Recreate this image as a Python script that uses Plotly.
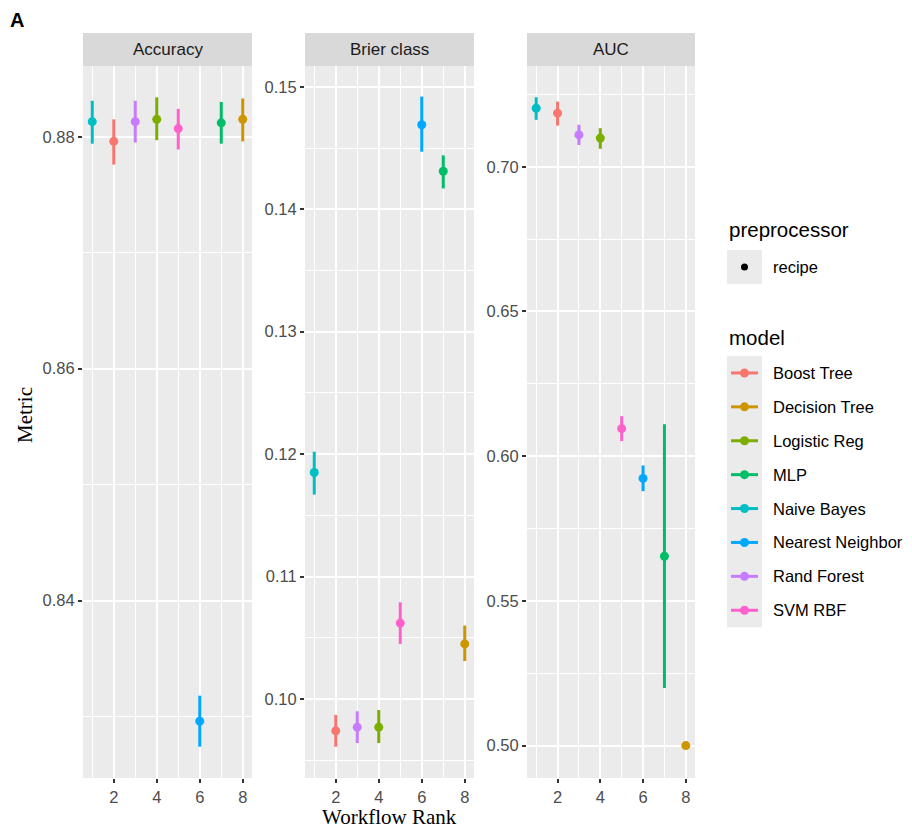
import plotly.graph_objects as go

# ---------------- data ----------------
models = ["Boost Tree", "Decision Tree", "Logistic Reg", "MLP",
          "Naive Bayes", "Nearest Neighbor", "Rand Forest", "SVM RBF"]
colors = ["#F8766D", "#CD9600", "#7CAE00", "#00BE67",
          "#00BFC4", "#00A9FF", "#C77CFF", "#FF61CC"]
rank = [2, 8, 4, 7, 1, 6, 3, 5]

acc_mean = [0.8796, 0.8815, 0.8815, 0.8812, 0.8813, 0.8296, 0.8813, 0.8807]
acc_lo   = [0.8776, 0.8796, 0.8797, 0.8794, 0.8794, 0.8274, 0.8795, 0.8789]
acc_hi   = [0.8815, 0.8833, 0.8834, 0.8830, 0.8831, 0.8318, 0.8831, 0.8824]

brier_mean = [0.0974, 0.1045, 0.0977, 0.1431, 0.1185, 0.1469, 0.0977, 0.1062]
brier_lo   = [0.0961, 0.1031, 0.0964, 0.1417, 0.1167, 0.1447, 0.0964, 0.1045]
brier_hi   = [0.0987, 0.1060, 0.0991, 0.1444, 0.1202, 0.1492, 0.0990, 0.1079]

auc_mean = [0.7185, 0.5000, 0.7099, 0.5654, 0.7202, 0.5923, 0.7110, 0.6095]
auc_lo   = [0.7142, 0.5000, 0.7062, 0.5199, 0.7162, 0.5879, 0.7075, 0.6052]
auc_hi   = [0.7225, 0.5000, 0.7133, 0.6110, 0.7240, 0.5968, 0.7145, 0.6138]

panel_titles = ["Accuracy", "Brier class", "AUC"]
x_ticks = [2, 4, 6, 8]
y_ticks = [[0.84, 0.86, 0.88],
           [0.10, 0.11, 0.12, 0.13, 0.14, 0.15],
           [0.50, 0.55, 0.60, 0.65, 0.70]]
y_minor = [[0.83, 0.85, 0.87],
           [0.095, 0.105, 0.115, 0.125, 0.135, 0.145],
           [0.525, 0.575, 0.625, 0.675, 0.725]]
y_ranges = [[0.8247, 0.8861], [0.09355, 0.1517], [0.4888, 0.7348]]

# ---------------- layout helpers ----------------
# the page body has an 8px margin, so the figure is drawn 8px in from the corner
OFF = 8
W, H = 912 - OFF, 832 - OFF
def X(px): return (px - OFF) / W
def Y(py): return 1 - (py - OFF) / H

panel_px = [(83, 252), (305, 474), (527, 695)]
top_px, bot_px = 66, 778
strip_top = 33

SANS = "Liberation Sans, Arial, sans-serif"
SERIF = "Liberation Serif, Times New Roman, serif"

fig = go.Figure()
series = [(acc_mean, acc_lo, acc_hi), (brier_mean, brier_lo, brier_hi),
          (auc_mean, auc_lo, auc_hi)]

for p, (m, lo, hi) in enumerate(series):
    xa = "x" if p == 0 else f"x{p+1}"
    ya = "y" if p == 0 else f"y{p+1}"
    for i, name in enumerate(models):
        fig.add_trace(go.Scatter(
            x=[rank[i]], y=[m[i]], mode="markers", xaxis=xa, yaxis=ya,
            name=name, showlegend=False,
            marker=dict(color=colors[i], size=9),
            error_y=dict(type="data", symmetric=False,
                         array=[hi[i] - m[i]], arrayminus=[m[i] - lo[i]],
                         color=colors[i], thickness=3, width=0),
        ))

shapes = []
annotations = []
for p in range(3):
    sfx = "" if p == 0 else str(p + 1)
    l, r = panel_px[p]
    fig.layout["xaxis" + sfx] = dict(
        domain=[X(l), X(r)], range=[0.57, 8.43], anchor="y" + sfx,
        tickvals=x_ticks, ticks="outside", ticklen=4, tickwidth=2,
        tickcolor="#333333", showgrid=True, gridcolor="white", gridwidth=2,
        zeroline=False, showline=False,
        tickfont=dict(family=SANS, size=16.5, color="#4D4D4D"),
        minor=dict(tickvals=[1, 3, 5, 7], showgrid=True, gridcolor="white",
                   gridwidth=1, ticks=""),
    )
    fig.layout["yaxis" + sfx] = dict(
        domain=[Y(bot_px), Y(top_px)], range=y_ranges[p], anchor="x" + sfx,
        tickvals=y_ticks[p], ticktext=[f"{v:.2f}" for v in y_ticks[p]],
        ticks="outside", ticklen=4, tickwidth=2, tickcolor="#333333",
        showgrid=True, gridcolor="white", gridwidth=2,
        zeroline=False, showline=False,
        tickfont=dict(family=SANS, size=16.5, color="#4D4D4D"),
        minor=dict(tickvals=y_minor[p], showgrid=True, gridcolor="white",
                   gridwidth=1, ticks=""),
    )
    # panel background
    shapes.append(dict(type="rect", xref="paper", yref="paper", layer="below",
                       x0=X(l), x1=X(r), y0=Y(bot_px), y1=Y(top_px),
                       fillcolor="#EBEBEB", line=dict(width=0)))
    # strip
    shapes.append(dict(type="rect", xref="paper", yref="paper",
                       x0=X(l), x1=X(r), y0=Y(top_px), y1=Y(strip_top),
                       fillcolor="#D9D9D9", line=dict(width=0)))
    annotations.append(dict(text=panel_titles[p], xref="paper", yref="paper",
                            x=X((l + r) / 2), y=Y((strip_top + top_px) / 2),
                            showarrow=False, xanchor="center", yanchor="middle",
                            font=dict(family=SANS, size=17, color="#1A1A1A")))

# axis titles and panel label
annotations.append(dict(text="Metric", xref="paper", yref="paper",
                        x=X(25), y=Y(415), textangle=-90, showarrow=False,
                        xanchor="center", yanchor="middle",
                        font=dict(family=SERIF, size=21, color="black")))
annotations.append(dict(text="Workflow Rank", xref="paper", yref="paper",
                        x=X(389), y=Y(817), showarrow=False,
                        xanchor="center", yanchor="middle",
                        font=dict(family=SERIF, size=21, color="black")))
annotations.append(dict(text="<b>A</b>", xref="paper", yref="paper",
                        x=X(8), y=Y(20), showarrow=False,
                        xanchor="left", yanchor="middle",
                        font=dict(family=SANS, size=20, color="black")))

# ---------------- manual legend ----------------
kx0, kx1 = 727, 762
annotations.append(dict(text="preprocessor", xref="paper", yref="paper",
                        x=X(727), y=Y(229), showarrow=False, xanchor="left",
                        yanchor="middle",
                        font=dict(family=SANS, size=20.5, color="black")))
shapes.append(dict(type="rect", xref="paper", yref="paper",
                   x0=X(kx0), x1=X(kx1), y0=Y(284), y1=Y(250),
                   fillcolor="#EBEBEB", line=dict(width=0)))
shapes.append(dict(type="circle", xref="paper", yref="paper",
                   x0=X(744.5 - 3.5), x1=X(744.5 + 3.5),
                   y0=Y(267 + 3.5), y1=Y(267 - 3.5),
                   fillcolor="black", line=dict(width=0)))
annotations.append(dict(text="recipe", xref="paper", yref="paper",
                        x=X(771), y=Y(267), showarrow=False, xanchor="left",
                        yanchor="middle",
                        font=dict(family=SANS, size=16.5, color="black")))

annotations.append(dict(text="model", xref="paper", yref="paper",
                        x=X(727), y=Y(338), showarrow=False, xanchor="left",
                        yanchor="middle",
                        font=dict(family=SANS, size=20.5, color="black")))
key_top = 356
step = 33.9
shapes.append(dict(type="rect", xref="paper", yref="paper",
                   x0=X(kx0), x1=X(kx1), y0=Y(key_top + 8 * step),
                   y1=Y(key_top), fillcolor="#EBEBEB", line=dict(width=0)))
for i, name in enumerate(models):
    cy = key_top + step * (i + 0.5)
    shapes.append(dict(type="line", xref="paper", yref="paper",
                       x0=X(731), x1=X(758), y0=Y(cy), y1=Y(cy),
                       line=dict(color=colors[i], width=3)))
    shapes.append(dict(type="circle", xref="paper", yref="paper",
                       x0=X(744.5 - 4.5), x1=X(744.5 + 4.5),
                       y0=Y(cy + 4.5), y1=Y(cy - 4.5),
                       fillcolor=colors[i], line=dict(width=0)))
    annotations.append(dict(text=name, xref="paper", yref="paper",
                            x=X(771), y=Y(cy), showarrow=False, xanchor="left",
                            yanchor="middle",
                            font=dict(family=SANS, size=16.5, color="black")))

fig.update_layout(
    width=W, height=H, margin=dict(l=0, r=0, t=0, b=0),
    paper_bgcolor="white", plot_bgcolor="rgba(0,0,0,0)",
    showlegend=False, shapes=shapes, annotations=annotations,
)

fig.write_html("out.html")
